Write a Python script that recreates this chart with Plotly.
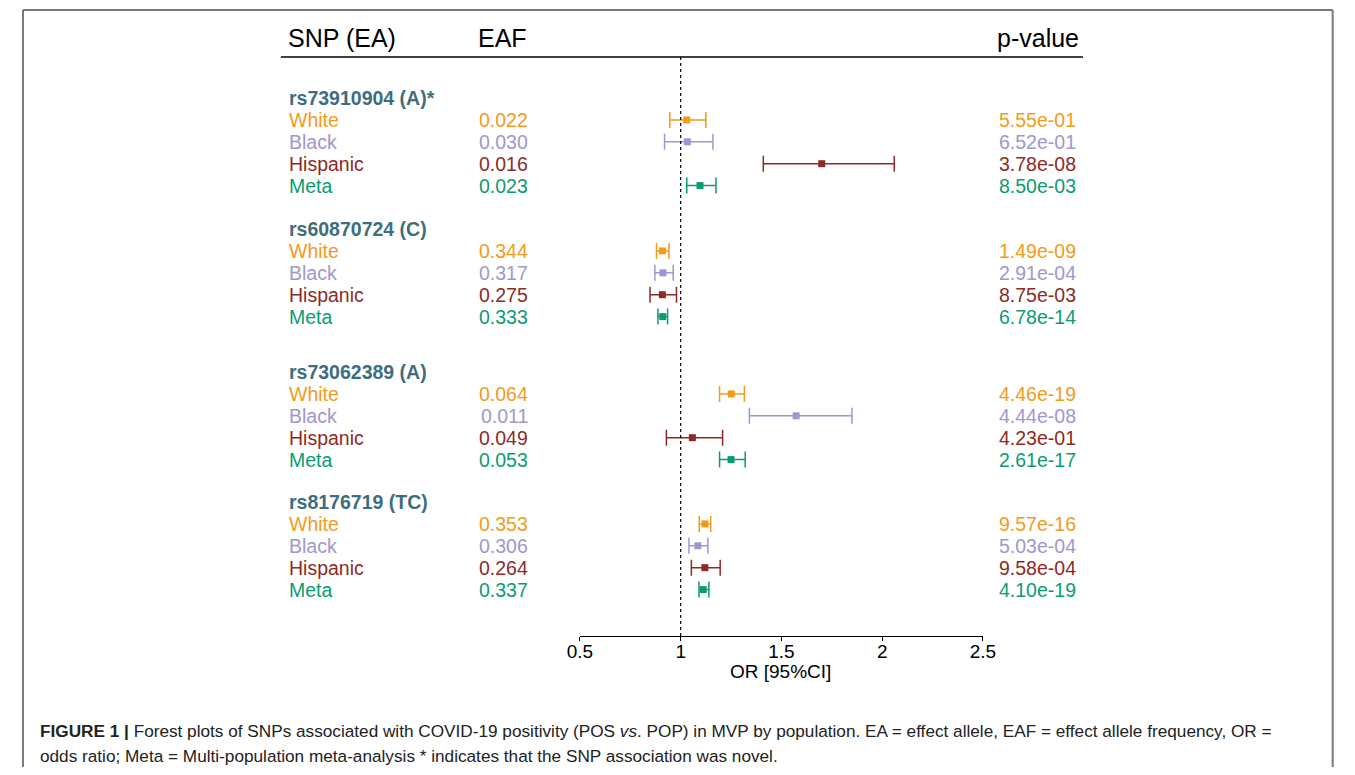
import plotly.graph_objects as go

# ---------------- data ----------------
snps = ["rs73910904 (A)*", "rs60870724 (C)", "rs73062389 (A)", "rs8176719 (TC)"]
populations = ["White", "Black", "Hispanic", "Meta"]

eaf = [
    ["0.022", "0.030", "0.016", "0.023"],
    ["0.344", "0.317", "0.275", "0.333"],
    ["0.064", "0.011", "0.049", "0.053"],
    ["0.353", "0.306", "0.264", "0.337"],
]
pvals = [
    ["5.55e-01", "6.52e-01", "3.78e-08", "8.50e-03"],
    ["1.49e-09", "2.91e-04", "8.75e-03", "6.78e-14"],
    ["4.46e-19", "4.44e-08", "4.23e-01", "2.61e-17"],
    ["9.57e-16", "5.03e-04", "9.58e-04", "4.10e-19"],
]
or_est = [
    [1.030, 1.033, 1.700, 1.096],
    [0.909, 0.912, 0.909, 0.911],
    [1.251, 1.573, 1.058, 1.250],
    [1.120, 1.085, 1.120, 1.112],
]
ci_low = [
    [0.946, 0.920, 1.410, 1.030],
    [0.880, 0.872, 0.848, 0.887],
    [1.193, 1.341, 0.929, 1.193],
    [1.092, 1.041, 1.053, 1.091],
]
ci_high = [
    [1.125, 1.160, 2.060, 1.175],
    [0.942, 0.963, 0.979, 0.935],
    [1.316, 1.850, 1.208, 1.320],
    [1.149, 1.135, 1.196, 1.140],
]
x_ticks = [0.5, 1, 1.5, 2, 2.5]
x_tick_labels = ["0.5", "1", "1.5", "2", "2.5"]

# ---------------- style / layout ----------------
OFF = 8                      # page body margin
W, H = 1355 - 2 * OFF, 775 - 2 * OFF
pop_colors = ["#F29B1A", "#9D98CD", "#8C2B25", "#0B9B73"]
snp_color = "#3E6D80"
FONT = "Liberation Sans, Arial, sans-serif"
GROUP_TOP = [98, 229, 372, 502]   # screen row of each SNP header
ROW_STEP = 21.9
LBL = 19.5

def px(x):
    return min(max((x - OFF) / W, 0), 1)

def py(y):
    return min(max(1 - (y - OFF) / H, 0), 1)

def yv(y):
    return y - OFF

fig = go.Figure()

annotations = []
for g, snp in enumerate(snps):
    top = GROUP_TOP[g]
    annotations.append(dict(x=px(279), y=py(top), xref="paper", yref="paper",
                            text=f"<b>{snp}</b>", showarrow=False, xanchor="left",
                            yanchor="middle", font=dict(family=FONT, size=19.5, color=snp_color)))
    ys = []
    for i, pop in enumerate(populations):
        yrow = top + ROW_STEP * (i + 1)
        ys.append(yv(yrow))
        c = pop_colors[i]
        annotations.append(dict(x=px(279), y=py(yrow), xref="paper", yref="paper",
                                text=pop, showarrow=False, xanchor="left", yanchor="middle",
                                font=dict(family=FONT, size=LBL, color=c)))
        annotations.append(dict(x=px(527), y=py(yrow), xref="paper", yref="paper",
                                text=eaf[g][i], showarrow=False, xanchor="right", yanchor="middle",
                                font=dict(family=FONT, size=LBL, color=c)))
        annotations.append(dict(x=px(1086), y=py(yrow), xref="paper", yref="paper",
                                text=pvals[g][i], showarrow=False, xanchor="right", yanchor="middle",
                                font=dict(family=FONT, size=LBL, color=c)))
    for i in range(len(populations)):
        c = pop_colors[i]
        fig.add_trace(go.Scatter(
            x=[or_est[g][i]], y=[ys[i]], mode="markers",
            marker=dict(symbol="square", size=7, color=c),
            error_x=dict(type="data", symmetric=False,
                         array=[ci_high[g][i] - or_est[g][i]],
                         arrayminus=[or_est[g][i] - ci_low[g][i]],
                         color=c, thickness=1.5, width=8),
            showlegend=False, hoverinfo="skip"))

# headers
annotations.append(dict(x=px(278), y=py(38), xref="paper", yref="paper", text="SNP (EA)",
                        showarrow=False, xanchor="left", yanchor="middle",
                        font=dict(family=FONT, size=25, color="black")))
annotations.append(dict(x=px(472), y=py(38), xref="paper", yref="paper", text="EAF",
                        showarrow=False, xanchor="left", yanchor="middle",
                        font=dict(family=FONT, size=25, color="black")))
annotations.append(dict(x=px(1089), y=py(38), xref="paper", yref="paper", text="p-value",
                        showarrow=False, xanchor="right", yanchor="middle",
                        font=dict(family=FONT, size=25, color="black")))
annotations.append(dict(x=px(783), y=py(671), xref="paper", yref="paper", text="OR [95%CI]",
                        showarrow=False, xanchor="center", yanchor="middle", borderpad=0,
                        font=dict(family=FONT, size=19, color="black")))
# caption
annotations.append(dict(x=px(25), y=py(731), xref="paper", yref="paper",
                        text="<b>FIGURE 1 |</b> Forest plots of SNPs associated with COVID-19 positivity (POS <i>vs</i>. POP) in MVP by population. EA = effect allele, EAF = effect allele frequency, OR =",
                        showarrow=False, xanchor="left", yanchor="middle",
                        font=dict(family=FONT, size=17.2, color="#222")))
annotations.append(dict(x=px(25), y=py(756), xref="paper", yref="paper",
                        text="odds ratio; Meta = Multi-population meta-analysis * indicates that the SNP association was novel.",
                        showarrow=False, xanchor="left", yanchor="middle",
                        font=dict(family=FONT, size=17.2, color="#222")))

frame = dict(color="#777777", width=2)
shapes = [
    # header underline
    dict(type="line", xref="paper", yref="paper", x0=px(273), x1=px(1091), y0=py(57), y1=py(57),
         line=dict(color="black", width=1.6)),
    # reference line at OR = 1
    dict(type="line", xref="x", yref="y", x0=1, x1=1, y0=yv(57), y1=yv(636),
         line=dict(color="black", width=1.2, dash="dot")),
    # frame (left, top, right) kept inside the figure
    dict(type="line", xref="paper", yref="paper", x0=px(10), x1=px(10), y0=0, y1=py(10), line=frame),
    dict(type="line", xref="paper", yref="paper", x0=px(10), x1=0.999, y0=py(10), y1=py(10), line=frame),
    dict(type="line", xref="paper", yref="paper", x0=0.999, x1=0.999, y0=0, y1=py(10), line=frame),
]

fig.update_layout(
    width=W, height=H, margin=dict(l=0, r=0, t=0, b=0),
    paper_bgcolor="white", plot_bgcolor="white",
    annotations=annotations, shapes=shapes,
    xaxis=dict(domain=[px(578), px(989)], range=[0.5, 2.5], tickvals=x_ticks,
               ticktext=x_tick_labels, showgrid=False, zeroline=False, showline=True,
               linecolor="black", linewidth=1.2, ticks="outside", ticklen=4, tickcolor="black",
               ticklabelstandoff=-6,
               anchor="free", position=py(636),
               tickfont=dict(family=FONT, size=19, color="black")),
    yaxis=dict(domain=[0, 1], range=[H, 0], visible=False, showgrid=False, zeroline=False),
)

fig.write_html("out.html")
